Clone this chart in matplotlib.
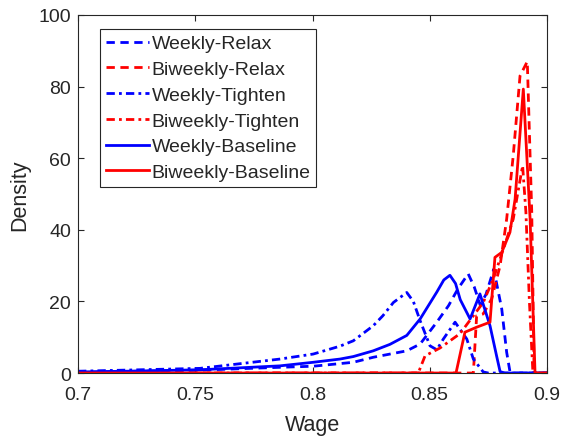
import numpy as np
import matplotlib
matplotlib.use('Agg')
import matplotlib.pyplot as plt

plt.rcParams['font.family'] = ['Liberation Sans', 'DejaVu Sans']

# weekly, relax
wr_x = [0.70, 0.752, 0.7861, 0.8003, 0.8174, 0.8259, 0.8402, 0.8459, 0.853, 0.858, 0.862, 0.8664,
        0.869, 0.8715, 0.874, 0.8773, 0.8807, 0.8828, 0.8842, 0.886, 0.90]
wr_y = [0.2, 0.8, 1.6, 1.9, 3.0, 4.4, 6.2, 8.1, 14.2, 18.8, 23.5, 27.7,
        24.0, 19.0, 22.0, 29.0, 17.9, 5.8, 0.4, 0.0, 0.0]

# biweekly, relax
br_x = [0.70, 0.8686, 0.870, 0.8728, 0.8764, 0.880, 0.8828, 0.8856, 0.8885, 0.8916, 0.8935, 0.8945, 0.90]
br_y = [0.0, 0.0, 16.0, 16.5, 20.7, 30.0, 43.0, 60.7, 83.0, 87.0, 45.0, 0.0, 0.0]

# weekly, tighten
wt_x = [0.70, 0.752, 0.7861, 0.8003, 0.8117, 0.8174, 0.8259, 0.830, 0.8345, 0.8402, 0.843, 0.8459,
        0.8501, 0.853, 0.8558, 0.8608, 0.8658, 0.8686, 0.8728, 0.875, 0.90]
wt_y = [0.5, 1.3, 3.9, 5.3, 7.5, 9.0, 13.2, 16.0, 19.7, 22.5, 20.0, 14.6,
        7.6, 6.5, 9.5, 14.2, 9.5, 3.9, 0.3, 0.0, 0.0]

# biweekly, tighten
bt_x = [0.70, 0.8451, 0.848, 0.8544, 0.8629, 0.8686, 0.8728, 0.8771, 0.8814, 0.8856, 0.888, 0.8896,
        0.891, 0.8925, 0.894, 0.90]
bt_y = [0.0, 0.0, 4.8, 7.0, 11.0, 16.0, 19.7, 26.3, 34.6, 43.0, 52.0, 57.9,
        45.0, 20.0, 0.0, 0.0]

# weekly, baseline
wb_x = [0.70, 0.72, 0.752, 0.7861, 0.8003, 0.8117, 0.8174, 0.8259, 0.833, 0.8402, 0.8459, 0.853,
        0.856, 0.8586, 0.861, 0.863, 0.8672, 0.8714, 0.8757, 0.8785, 0.880, 0.882, 0.90]
wb_y = [0.3, 0.5, 0.9, 2.0, 3.0, 3.9, 4.6, 6.2, 8.0, 10.5, 15.1, 22.6,
        26.0, 27.3, 25.0, 20.5, 15.1, 22.1, 13.2, 4.8, 0.4, 0.0, 0.0]

# biweekly, baseline
bb_x = [0.70, 0.8612, 0.865, 0.870, 0.8757, 0.8778, 0.8807, 0.8842, 0.8864, 0.8899, 0.8928, 0.8949, 0.90]
bb_y = [0.0, 0.0, 11.4, 12.8, 14.2, 32.3, 33.7, 39.3, 48.6, 79.3, 43.0, 0.0, 0.0]

dash = (0, (3, 2))
dashdot = (0, (3, 1.5, 1, 1.5))
dark = '#262626'

fig = plt.figure(figsize=(5.62, 4.39), dpi=100)
ax = fig.add_axes([0.1388, 0.148, 0.8345, 0.8156])

ax.plot(wr_x, wr_y, color='b', lw=2, ls=dash, label='Weekly-Relax')
ax.plot(br_x, br_y, color='r', lw=2, ls=dash, label='Biweekly-Relax')
ax.plot(wt_x, wt_y, color='b', lw=2, ls=dashdot, label='Weekly-Tighten')
ax.plot(bt_x, bt_y, color='r', lw=2, ls=dashdot, label='Biweekly-Tighten')
ax.plot(wb_x, wb_y, color='b', lw=2, ls='-', label='Weekly-Baseline')
ax.plot(bb_x, bb_y, color='r', lw=2, ls='-', label='Biweekly-Baseline')

ax.set_xlim(0.7, 0.9)
ax.set_ylim(0, 100)
ax.set_xticks([0.7, 0.75, 0.8, 0.85, 0.9])
ax.set_xticklabels(['0.7', '0.75', '0.8', '0.85', '0.9'])
ax.set_yticks([0, 20, 40, 60, 80, 100])
ax.tick_params(direction='in', length=4, width=0.8, top=True, right=True,
               labelsize=14, colors=dark, labelcolor=dark, pad=5)
ax.tick_params(axis='x', pad=9)
for s in ax.spines.values():
    s.set_color(dark)
    s.set_linewidth(0.8)
ax.set_xlabel('Wage', fontsize=15.5, color=dark, labelpad=8)
ax.set_ylabel('Density', fontsize=15.5, color=dark, labelpad=6)

leg = ax.legend(loc='upper left', bbox_to_anchor=(0.047, 0.961), borderaxespad=0,
                fontsize=14, handlelength=2.2, handletextpad=0.15, labelspacing=0.42,
                fancybox=False, framealpha=1, edgecolor=dark, borderpad=0.3)
leg.get_frame().set_linewidth(0.8)
for t in leg.get_texts():
    t.set_color(dark)

fig.savefig('out.png', dpi=100)
